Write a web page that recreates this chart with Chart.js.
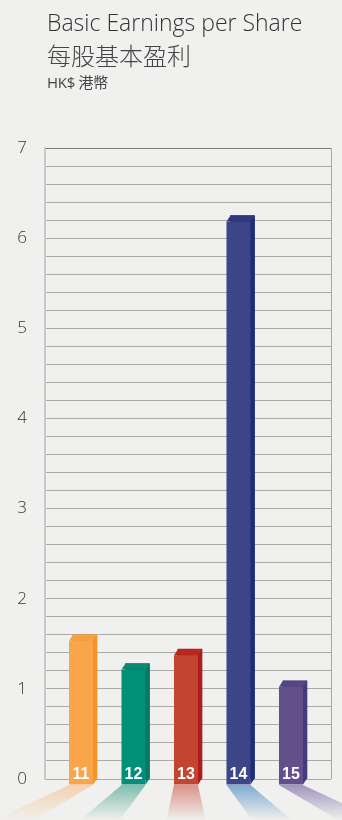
<!DOCTYPE html>
<html>
<head>
<meta charset="utf-8">
<script src="https://cdn.jsdelivr.net/npm/chart.js@4.4.1/dist/chart.umd.min.js"></script>
<style>
  html, body { margin: 0; padding: 0; background: #f0f0ee; }
  #wrap { position: relative; width: 342px; height: 820px; overflow: hidden; }
  #eps { position: absolute; left: 0; top: 0; }
  .title-en { position: absolute; left: 47px; top: 6px; font: 300 23px 'Open Sans', sans-serif; color: #333; white-space: nowrap; }
  .title-zh { position: absolute; left: 47px; top: 37px; font: 300 24px 'Noto Sans CJK TC', sans-serif; color: #444; white-space: nowrap; }
  .unit { position: absolute; left: 47px; top: 71px; font: 400 15px 'Open Sans', 'Noto Sans CJK TC', sans-serif; color: #444; white-space: nowrap; letter-spacing: -0.3px; }
</style>
</head>
<body>
<div id="wrap">
  <canvas id="eps" width="342" height="820"></canvas>
  <div class="title-en">Basic Earnings per Share</div>
  <div class="title-zh">每股基本盈利</div>
  <div class="unit">HK$ 港幣</div>
</div>
<script>
// ── Data ──
const YEARS = ['11', '12', '13', '14', '15'];
const EPS = [1.60, 1.28, 1.44, 6.25, 1.09];

// ── Bar colours (front / side / top / floor glow) ──
const FRONT = ['#f8a54b', '#009079', '#c1452f', '#3c4587', '#634f8c'];
const SIDE  = ['#f39423', '#007a62', '#b01b1c', '#1f2c79', '#4a3a7d'];
const TOP   = ['#f7a041', '#0a8872', '#b8281f', '#2c3880', '#574483'];
const GLOW  = ['244,197,150', '79,168,148', '208,106,90', '79,140,196', '126,111,166'];

// 3D depth offset of the back face
const DX = 4, DY = 6;

function poly(ctx, pts, fill) {
    ctx.beginPath();
    ctx.moveTo(pts[0][0], pts[0][1]);
    for (let i = 1; i < pts.length; i++) ctx.lineTo(pts[i][0], pts[i][1]);
    ctx.closePath();
    ctx.fillStyle = fill;
    ctx.fill();
}

// ── 3D bars + floor glow ──
const bar3d = {
    id: 'bar3d',
    beforeDatasetsDraw(chart) {
        const ctx = chart.ctx;
        const meta = chart.getDatasetMeta(0);
        const vx = chart.scales.x.getPixelForValue(2) - DX;
        const y0 = chart.scales.y.getPixelForValue(0) + DY;
        const vy = y0 - 55;
        const yEnd = chart.height + 10;
        const k = (yEnd - vy) / (y0 - vy);

        // right border of the plot
        ctx.save();
        ctx.strokeStyle = '#a8a8a8';
        ctx.lineWidth = 1;
        ctx.beginPath();
        ctx.moveTo(chart.chartArea.right + 0.5, chart.chartArea.top);
        ctx.lineTo(chart.chartArea.right + 0.5, chart.chartArea.bottom);
        ctx.stroke();

        meta.data.forEach((bar, i) => {
            const half = bar.width / 2;
            const l = bar.x - DX - half, r = bar.x - DX + half;
            const g = ctx.createLinearGradient(0, y0, 0, chart.height);
            g.addColorStop(0, `rgba(${GLOW[i]},0.7)`);
            g.addColorStop(1, `rgba(${GLOW[i]},0)`);
            poly(ctx, [
                [l, y0], [r, y0],
                [vx + (r - vx) * k, yEnd], [vx + (l - vx) * k, yEnd]
            ], g);
        });
        ctx.restore();
    },
    afterDatasetsDraw(chart) {
        const ctx = chart.ctx;
        const meta = chart.getDatasetMeta(0);
        ctx.save();
        meta.data.forEach((bar, i) => {
            const half = bar.width / 2;
            const fl = bar.x - DX - half, fr = bar.x - DX + half;
            const ft = bar.y + DY, fb = bar.base + DY;
            poly(ctx, [[fr, ft], [fr + DX, ft - DY], [fr + DX, fb - DY], [fr, fb]], SIDE[i]);
            poly(ctx, [[fl, ft], [fl + DX, ft - DY], [fr + DX, ft - DY], [fr, ft]], TOP[i]);
            ctx.fillStyle = FRONT[i];
            ctx.fillRect(fl, ft, fr - fl, fb - ft);

            ctx.fillStyle = '#fff';
            ctx.font = "bold 16px 'Liberation Sans', sans-serif";
            ctx.textAlign = 'center';
            ctx.textBaseline = 'alphabetic';
            ctx.fillText(YEARS[i], (fl + fr) / 2, fb - 6);
        });
        ctx.restore();
    }
};

new Chart(document.getElementById('eps'), {
    type: 'bar',
    data: {
        datasets: [{
            data: EPS.map((v, i) => ({ x: i, y: v })),
            backgroundColor: SIDE,
            barThickness: 24,
            clip: false,
        }]
    },
    options: {
        responsive: false,
        animation: false,
        events: [],
        layout: { padding: { top: 148, bottom: 41, right: 11, left: 0 } },
        plugins: { legend: { display: false }, tooltip: { enabled: false } },
        scales: {
            x: {
                type: 'linear',
                offset: false,
                min: -0.762,
                max: 4.686,
                display: false,
            },
            y: {
                min: 0,
                max: 7,
                afterFit: s => { s.width = 45; },
                border: { display: true, color: '#c9c9c9', width: 2 },
                grid: {
                    color: c => c.tick.value >= 7 ? '#7a7a7a' : '#a9a9a9',
                    lineWidth: 1,
                    drawTicks: false,
                },
                ticks: {
                    stepSize: 0.2,
                    autoSkip: false,
                    padding: 18,
                    color: '#333',
                    font: { family: "'Open Sans', sans-serif", size: 17, weight: '300' },
                    callback: v => Math.abs(v - Math.round(v)) < 1e-6 ? String(Math.round(v)) : '',
                }
            }
        }
    },
    plugins: [bar3d]
});
</script>
</body>
</html>
